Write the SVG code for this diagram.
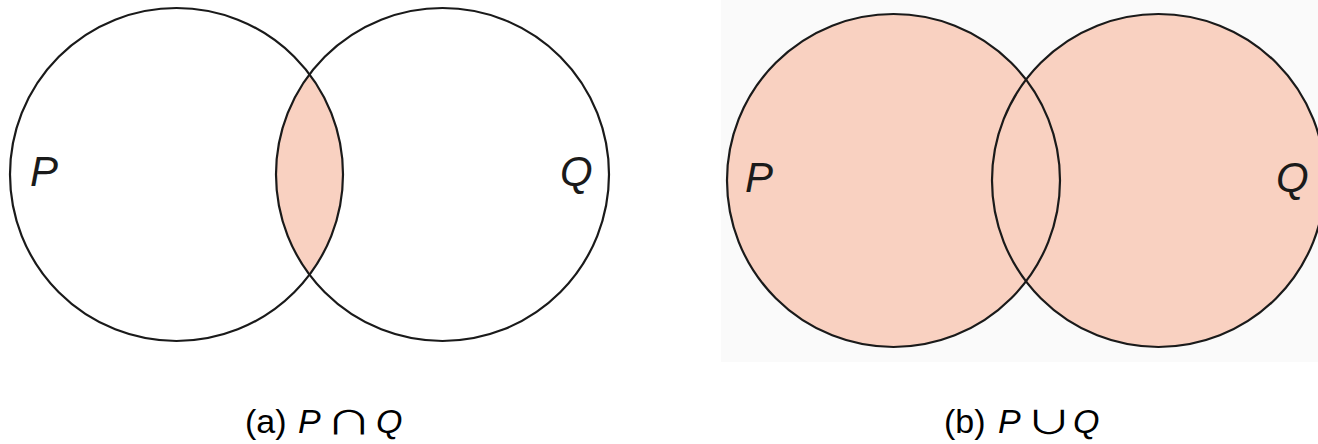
<svg xmlns="http://www.w3.org/2000/svg" width="1318" height="444" viewBox="0 0 1318 444">
<style>
.ring{fill:none;stroke:#1a1a1a;stroke-width:2.2}
.fillc{fill:#f9d1c1}
.lbl{font-family:"Liberation Sans",Arial,sans-serif;font-style:italic;font-size:42px;fill:#1a1a1a}
.cap{font-family:"Liberation Sans",Arial,sans-serif;font-size:34px;fill:#000}
.it{font-style:italic}
.sym{font-family:"Noto Sans CJK JP",sans-serif;font-size:32px;fill:#000;text-anchor:middle}
</style>
<rect x="0" y="0" width="1318" height="444" fill="#ffffff"/>
<rect x="721" y="0" width="597" height="362" fill="#fafafa"/>
<g id="intersection">
  <path class="fillc" d="M309.5 74.3 A166.5 166.5 0 0 1 309.5 274.7 A166.5 166.5 0 0 1 309.5 74.3 Z"/>
  <g id="a-P"><circle class="ring" cx="176.5" cy="174.5" r="166.5"/><text class="lbl" x="30" y="186">P</text></g>
  <g id="a-Q"><circle class="ring" cx="442.5" cy="174.5" r="166.5"/><text class="lbl" x="560" y="186">Q</text></g>
  <g id="cap-a">
    <text class="cap" x="245" y="433">(a) <tspan class="it" x="298">P</tspan><tspan class="it" x="376">Q</tspan></text>
    <text class="sym" transform="translate(349 434) scale(1.45 1)">∩</text>
  </g>
</g>
<g id="union">
  <circle class="fillc" cx="893.5" cy="180.5" r="166.5"/>
  <circle class="fillc" cx="1158.5" cy="180.5" r="166.5"/>
  <g id="b-P"><circle class="ring" cx="893.5" cy="180.5" r="166.5" stroke="#2a1a14"/><text class="lbl" x="745" y="192">P</text></g>
  <g id="b-Q"><circle class="ring" cx="1158.5" cy="180.5" r="166.5"/><text class="lbl" x="1276" y="192">Q</text></g>
  <g id="cap-b">
    <text class="cap" x="944" y="433">(b) <tspan class="it" x="998">P</tspan><tspan class="it" x="1073">Q</tspan></text>
    <text class="sym" transform="translate(1049 434) scale(1.45 1)">∪</text>
  </g>
</g>
</svg>
